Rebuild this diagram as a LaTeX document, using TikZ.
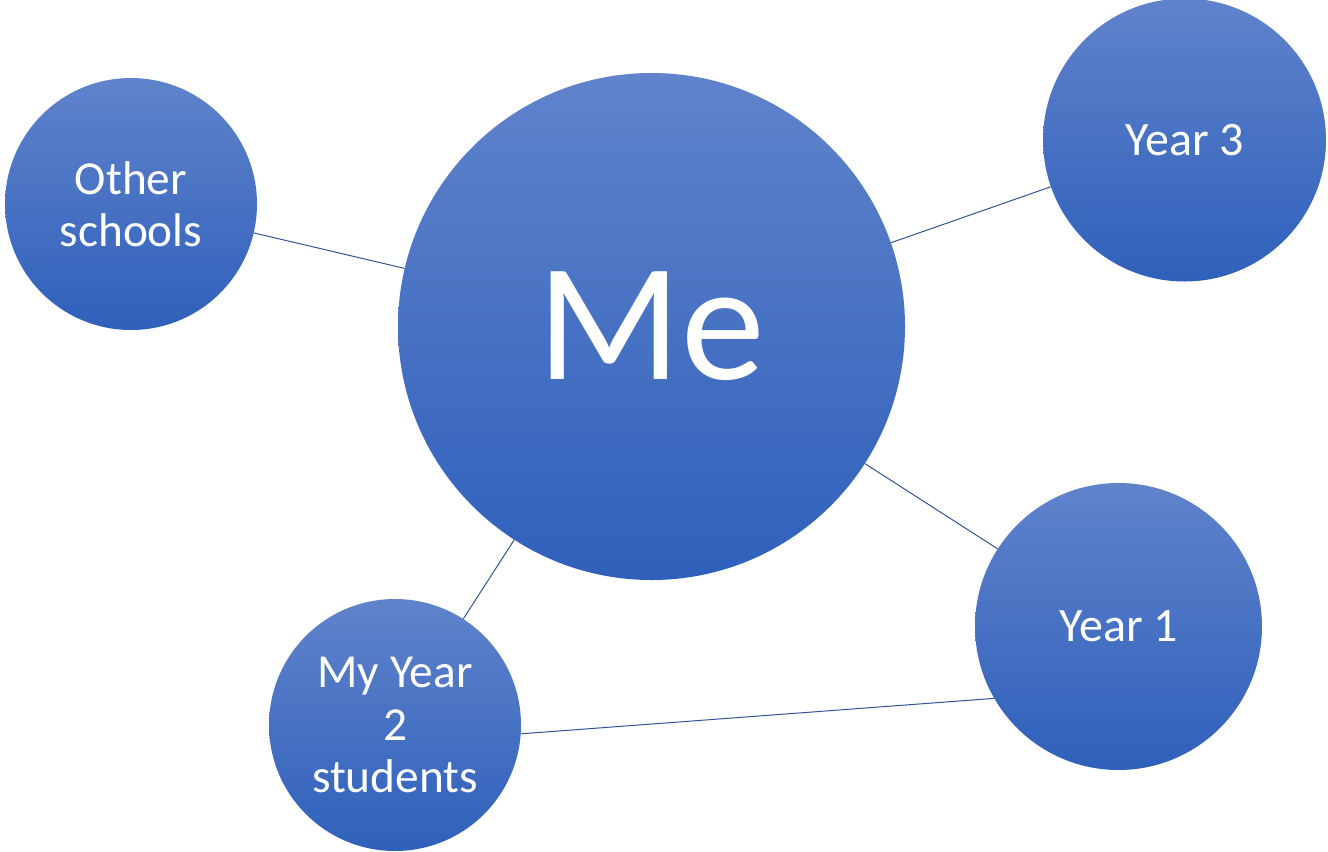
\documentclass[tikz,border=0pt]{standalone}
\usepackage{fontspec}
\setmainfont{Carlito}
\definecolor{bubbletop}{RGB}{96,131,203}
\definecolor{bubblebot}{RGB}{47,96,187}
\definecolor{linkblue}{RGB}{47,85,151}
\begin{document}
\begin{tikzpicture}[x=0.75pt, y=-0.75pt]
    % Define node styles
    \tikzstyle{bubble}=[circle, inner sep=0pt, top color=bubbletop, bottom color=bubblebot, text=white, align=center]
    \tikzstyle{link}=[draw=linkblue, line width=0.75pt]

    \useasboundingbox (0,0) rectangle (1328,851);

    % Centre bubble
    \node[bubble, minimum size=380.25pt, font=\fontsize{126}{150}\selectfont] (me) at (651.5, 326.5) {Me};

    % Outer bubbles
    \node[bubble, minimum size=189pt, font=\fontsize{35.5}{39.4}\selectfont] (other) at (131, 204) {Other\\schools};
    \node[bubble, minimum size=212.25pt, font=\fontsize{36}{43}\selectfont] (year3) at (1184.5, 140) {Year 3};
    \node[bubble, minimum size=215.25pt, font=\fontsize{36}{43}\selectfont] (year1) at (1118.5, 626.5) {Year 1};
    \node[bubble, minimum size=189pt, font=\fontsize{35.5}{39.4}\selectfont] (year2) at (395, 725) {My Year\\2\\students};

    % Links between bubbles
    \draw[link] (other) -- (me);
    \draw[link] (me) -- (year3);
    \draw[link] (me) -- (year1);
    \draw[link] (me) -- (year2);
    \draw[link] (year2.-4.5) -- (year1.210);

\end{tikzpicture}
\end{document}
